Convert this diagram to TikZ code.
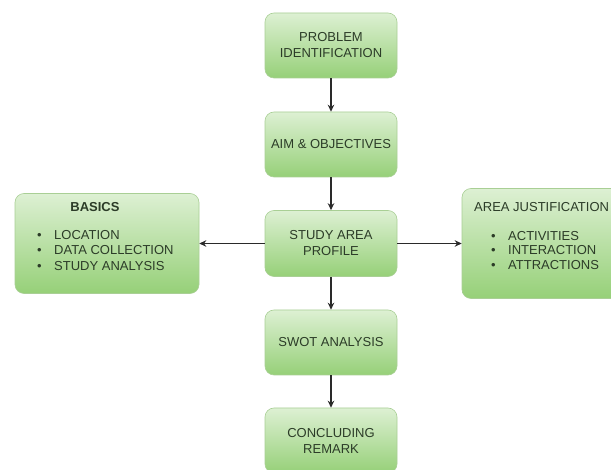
\documentclass[tikz,border=0pt]{standalone}
\usepackage{fontspec}
\setmainfont{Liberation Sans}
\usetikzlibrary{arrows.meta}
\definecolor{txtc}{HTML}{2C3C28}
\definecolor{gtop}{HTML}{DDF0D3}
\definecolor{gbot}{HTML}{96D078}
\definecolor{gline}{HTML}{A9CF95}
\definecolor{arr}{HTML}{2A2A2A}
\tikzset{
  box/.style={rectangle, rounded corners=9pt, top color=gtop, bottom color=gbot,
    draw=gline, line width=0.6pt, text=txtc, align=center,
    font=\fontsize{13}{16}\selectfont, inner sep=0pt},
  lbl/.style={text=txtc, font=\fontsize{13}{16}\selectfont, inner sep=0pt, anchor=west},
  conn/.style={draw=arr, line width=1.1pt, -{Stealth[length=7pt,width=6.5pt]}}
}
\newcommand{\bul}[1]{\makebox[17pt][l]{\textbullet}#1}
\begin{document}
\begin{tikzpicture}[x=1pt,y=-1pt]
\useasboundingbox (0,0) rectangle (611,470);
\clip (0,0) rectangle (611,470);
\fill[white] (0,0) rectangle (611,470);
% central column
\node[box, minimum width=132pt, minimum height=65pt] (prob) at (331,45.5) {PROBLEM\\IDENTIFICATION};
\node[box, minimum width=132pt, minimum height=65pt] (aim) at (331,144.5) {AIM \& OBJECTIVES};
\node[box, minimum width=132pt, minimum height=66pt] (study) at (331,243.5) {STUDY AREA\\PROFILE};
\node[box, minimum width=132pt, minimum height=65pt] (swot) at (331,342.5) {SWOT ANALYSIS};
\node[box, minimum width=132pt, minimum height=65pt] (conc) at (331,440.5) {CONCLUDING\\REMARK};
% side boxes
\node[box, minimum width=184pt, minimum height=100pt] (basics) at (107,243.5) {};
\node[box, minimum width=178pt, minimum height=110pt] (area) at (551,243.5) {};
% side texts
\node[lbl, anchor=center, font=\fontsize{13}{16}\selectfont\bfseries] (bt) at (95,207) {BASICS};
\node[lbl] (b1) at (37,235) {\bul{LOCATION}};
\node[lbl] (b2) at (37,250.5) {\bul{DATA COLLECTION}};
\node[lbl] (b3) at (37,266) {\bul{STUDY ANALYSIS}};
\node[lbl] (at) at (474,207) {AREA JUSTIFICATION};
\node[lbl] (a1) at (491,236) {\bul{ACTIVITIES}};
\node[lbl] (a2) at (491,250.5) {\bul{INTERACTION}};
\node[lbl] (a3) at (491,265) {\bul{ATTRACTIONS}};
% connectors
\draw[conn] (prob) -- (aim);
\draw[conn] (aim) -- (study);
\draw[conn] (study) -- (swot);
\draw[conn] (swot) -- (conc);
\draw[conn] (study.west) -- (study.west -| basics.east);
\draw[conn] (study.east) -- (study.east -| area.west);
\end{tikzpicture}
\end{document}
